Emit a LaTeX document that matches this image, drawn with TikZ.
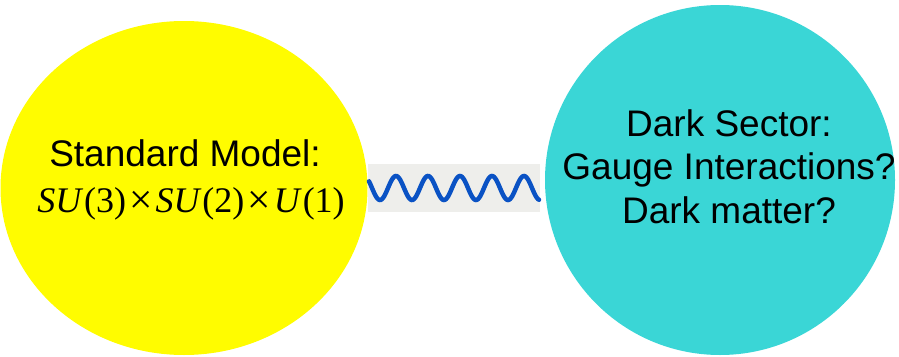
\documentclass[tikz,border=0pt]{standalone}
\usepackage{fontspec}
\setmainfont{Liberation Sans}
\newfontfamily\tmsfont{Liberation Serif}
\usetikzlibrary{shapes.geometric}
\definecolor{smyellow}{HTML}{FFFC00}
\definecolor{dscyan}{HTML}{3AD6D6}
\definecolor{boxgray}{HTML}{EEEEEB}
\definecolor{waveblue}{HTML}{0A52C4}
\newcommand{\bigtimes}{\kern3pt\raisebox{-1pt}{\scalebox{1.15}{×}}\kern3pt}
\tikzset{
  blob/.style={ellipse, inner sep=0pt, draw=none},
  lbl/.style={align=center, font=\fontsize{37}{43.5}\selectfont, inner sep=0pt},
}
\begin{document}
\begin{tikzpicture}[x=1pt,y=-1pt]
\useasboundingbox (0,0) rectangle (899,356);
\node[blob, fill=smyellow, minimum width=367pt, minimum height=334pt] (sm) at (184,188) {};
\node[blob, fill=dscyan, minimum width=350pt, minimum height=350pt] (ds) at (720,180) {};
\node[fill=boxgray, minimum width=172pt, minimum height=48pt, inner sep=0pt] (ph) at (454,188) {};
\draw[waveblue, line width=4.5pt, line cap=round] plot[domain=369:539, samples=160, smooth] (\x, {188+12*sin(11.25*(\x-380)+90)});
\node[lbl, anchor=base] (smt) at (185,166) {Standard Model:};
\node[anchor=base, inner sep=0pt, font=\tmsfont\fontsize{36}{40}\selectfont] (smg) at (191,212) {\textit{SU}\kern1pt(3)\bigtimes\textit{SU}\kern1pt(2)\bigtimes\textit{U}\kern1pt(1)};
\node[lbl, anchor=base] (d1) at (729,136) {Dark Sector:};
\node[lbl, anchor=base] (d2) at (729,179.5) {Gauge Interactions?};
\node[lbl, anchor=base] (d3) at (729,223) {Dark matter?};
\end{tikzpicture}
\end{document}
